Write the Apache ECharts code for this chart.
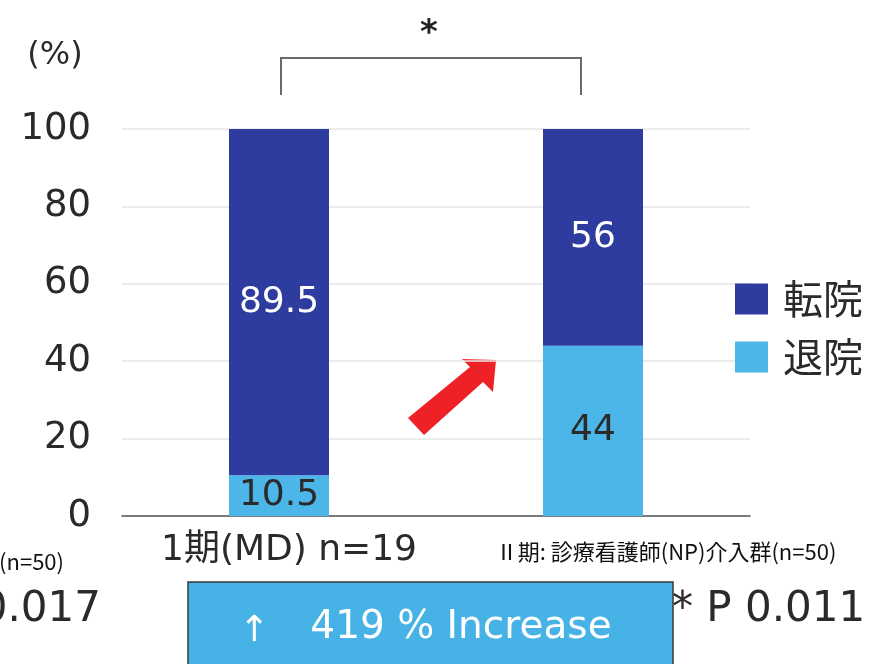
<!DOCTYPE html>
<html>
<head>
<meta charset="utf-8">
<script src="https://cdn.jsdelivr.net/npm/echarts@6/dist/echarts.min.js"></script>
<style>
  html, body { margin: 0; padding: 0; background: #fff; }
  #chart { width: 875px; height: 664px; }
</style>
</head>
<body>
<div id="chart"></div>
<script>
// categories (x axis)
const categories = ['1期(MD) n=19', 'Ⅱ期: 診療看護師(NP)介入群(n=50)'];
// series values (%)
const teninValues = [89.5, 56];   // 転院
const taiinValues = [10.5, 44];   // 退院
const seriesNames = ['転院', '退院'];
// y ticks
const yMin = 0, yMax = 100, yStep = 20;

const colors = {
  tenin: '#2d3c9e',
  taiin: '#4bb6e7',
  text: '#2a2a2a'
};
const numFont = "'DejaVu Sans', 'Noto Sans CJK JP', sans-serif";
const jpFont = "'Noto Sans CJK JP', sans-serif";

const chart = echarts.init(document.getElementById('chart'));

const option = {
  animation: false,
  backgroundColor: '#fff',
  grid: { left: 122, right: 125, top: 129, bottom: 148 },
  legend: {
    data: seriesNames,
    orient: 'vertical',
    left: 730,
    top: 274,
    itemWidth: 33,
    itemHeight: 31,
    itemGap: 18,
    icon: 'rect',
    textStyle: { fontSize: 40, fontFamily: jpFont, color: colors.text, padding: [0, 0, 0, 10] }
  },
  xAxis: {
    type: 'category',
    data: categories,
    axisLine: { lineStyle: { color: '#555', width: 1.5 } },
    axisTick: { show: false },
    axisLabel: {
      margin: 17,
      interval: 0,
      overflow: 'none',
      hideOverlap: false,
      formatter: (v, i) => i === 0 ? '{a|' + v + '}' : '{gap|}{b|' + v + '}',
      rich: {
        a: { fontSize: 36, fontFamily: numFont, color: colors.text, padding: [0, 0, 0, 20] },
        gap: { width: 146 },
        b: { fontSize: 22, fontFamily: jpFont, color: '#111', backgroundColor: '#fff', padding: [8, 10, 8, 10] }
      }
    }
  },
  yAxis: {
    type: 'value',
    min: yMin,
    max: yMax,
    interval: yStep,
    name: '(%)',
    nameLocation: 'end',
    nameGap: 57,
    nameTextStyle: { fontSize: 32, fontFamily: numFont, color: colors.text, align: 'center', padding: [0, 134, 0, 0] },
    axisLine: { show: false },
    axisTick: { show: false },
    axisLabel: { margin: 31, fontSize: 37, fontFamily: numFont, color: colors.text },
    splitLine: { lineStyle: { color: '#e6e6e6', width: 1.5 } }
  },
  series: [
    {
      name: '退院',
      type: 'bar',
      stack: 'total',
      barWidth: 100,
      data: taiinValues,
      itemStyle: { color: colors.taiin },
      label: { show: true, position: 'inside', fontSize: 36, fontFamily: numFont, color: colors.text }
    },
    {
      name: '転院',
      type: 'bar',
      stack: 'total',
      barWidth: 100,
      data: teninValues,
      itemStyle: { color: colors.tenin },
      label: { show: true, position: 'inside', fontSize: 36, fontFamily: numFont, color: '#fff' }
    }
  ],
  graphic: [
    // significance bracket
    {
      type: 'polyline',
      shape: { points: [[281, 95], [281, 58], [581, 58], [581, 95]] },
      style: { stroke: '#6a6a6a', lineWidth: 2, fill: null }
    },
    {
      type: 'text', x: 429, y: 34,
      style: { text: '*', fontSize: 34, fontWeight: 'bold', fontFamily: numFont, fill: '#222', align: 'center', verticalAlign: 'middle' }
    },
    // red arrow
    {
      type: 'polygon',
      shape: { points: [[408, 418], [470, 367], [462, 359], [496, 360], [493, 392], [483, 382], [424, 435]] },
      style: { fill: '#ee2226' }
    },
    // cropped panel text on left
    {
      type: 'rect', shape: { x: 0, y: 538, width: 97, height: 45 }, style: { fill: '#fff' }
    },
    {
      type: 'text', x: 64, y: 562,
      style: { text: '群(n=50)', fontSize: 22, fontFamily: jpFont, fill: '#111', align: 'right', verticalAlign: 'middle' }
    },
    {
      type: 'text', x: 101, y: 610,
      style: { text: 'P 0.017', fontSize: 42, fontFamily: numFont, fill: colors.text, align: 'right', verticalAlign: 'middle' }
    },
    // increase box
    {
      type: 'rect', shape: { x: 188, y: 582, width: 485, height: 95 },
      style: { fill: '#46b2e6', stroke: '#3a3a3a', lineWidth: 1.5 }
    },
    {
      type: 'text', x: 254, y: 632,
      style: { text: '↑', fontSize: 36, fontFamily: numFont, fill: '#fff', align: 'center', verticalAlign: 'middle' }
    },
    {
      type: 'text', x: 461, y: 628,
      style: { text: '419 % Increase', fontSize: 39, fontFamily: numFont, fill: '#fff', align: 'center', verticalAlign: 'middle' }
    },
    {
      type: 'text', x: 672, y: 610,
      style: { text: '* P 0.011', fontSize: 42, fontFamily: numFont, fill: colors.text, align: 'left', verticalAlign: 'middle' }
    }
  ]
};

chart.setOption(option);
</script>
</body>
</html>
